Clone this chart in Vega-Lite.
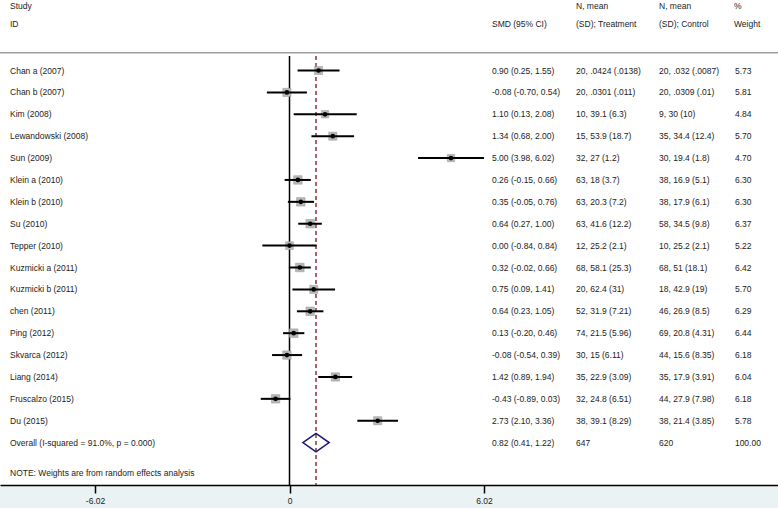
{
  "$schema": "https://vega.github.io/schema/vega-lite/v6.json",
  "width": 778,
  "height": 485,
  "autosize": {"type": "none"},
  "padding": {"left": 0, "right": 0, "top": 0, "bottom": 23},
  "background": "#eaf2f3",
  "config": {
    "view": {"stroke": null, "fill": "white"},
    "font": "Liberation Sans",
    "locale": {"number": {"decimal": ".", "thousands": ",", "grouping": [3], "currency": ["$", ""], "minus": "-"}},
    "text": {"font": "Liberation Sans", "fontSize": 8.5, "color": "#222"}
  },
  "datasets": {
    "studies": [
      {"row": 1, "kind": "study", "study": "Chan a (2007)", "smd": 0.90, "lo": 0.25, "hi": 1.55, "ci": "0.90 (0.25, 1.55)", "trt": "20, .0424 (.0138)", "ctl": "20, .032 (.0087)", "weight": 5.73},
      {"row": 2, "kind": "study", "study": "Chan b (2007)", "smd": -0.08, "lo": -0.70, "hi": 0.54, "ci": "-0.08 (-0.70, 0.54)", "trt": "20, .0301 (.011)", "ctl": "20, .0309 (.01)", "weight": 5.81},
      {"row": 3, "kind": "study", "study": "Kim (2008)", "smd": 1.10, "lo": 0.13, "hi": 2.08, "ci": "1.10 (0.13, 2.08)", "trt": "10, 39.1 (6.3)", "ctl": "9, 30 (10)", "weight": 4.84},
      {"row": 4, "kind": "study", "study": "Lewandowski (2008)", "smd": 1.34, "lo": 0.68, "hi": 2.00, "ci": "1.34 (0.68, 2.00)", "trt": "15, 53.9 (18.7)", "ctl": "35, 34.4 (12.4)", "weight": 5.70},
      {"row": 5, "kind": "study", "study": "Sun (2009)", "smd": 5.00, "lo": 3.98, "hi": 6.02, "ci": "5.00 (3.98, 6.02)", "trt": "32, 27 (1.2)", "ctl": "30, 19.4 (1.8)", "weight": 4.70},
      {"row": 6, "kind": "study", "study": "Klein a (2010)", "smd": 0.26, "lo": -0.15, "hi": 0.66, "ci": "0.26 (-0.15, 0.66)", "trt": "63, 18 (3.7)", "ctl": "38, 16.9 (5.1)", "weight": 6.30},
      {"row": 7, "kind": "study", "study": "Klein b (2010)", "smd": 0.35, "lo": -0.05, "hi": 0.76, "ci": "0.35 (-0.05, 0.76)", "trt": "63, 20.3 (7.2)", "ctl": "38, 17.9 (6.1)", "weight": 6.30},
      {"row": 8, "kind": "study", "study": "Su (2010)", "smd": 0.64, "lo": 0.27, "hi": 1.00, "ci": "0.64 (0.27, 1.00)", "trt": "63, 41.6 (12.2)", "ctl": "58, 34.5 (9.8)", "weight": 6.37},
      {"row": 9, "kind": "study", "study": "Tepper (2010)", "smd": 0.00, "lo": -0.84, "hi": 0.84, "ci": "0.00 (-0.84, 0.84)", "trt": "12, 25.2 (2.1)", "ctl": "10, 25.2 (2.1)", "weight": 5.22},
      {"row": 10, "kind": "study", "study": "Kuzmicki a (2011)", "smd": 0.32, "lo": -0.02, "hi": 0.66, "ci": "0.32 (-0.02, 0.66)", "trt": "68, 58.1 (25.3)", "ctl": "68, 51 (18.1)", "weight": 6.42},
      {"row": 11, "kind": "study", "study": "Kuzmicki b (2011)", "smd": 0.75, "lo": 0.09, "hi": 1.41, "ci": "0.75 (0.09, 1.41)", "trt": "20, 62.4 (31)", "ctl": "18, 42.9 (19)", "weight": 5.70},
      {"row": 12, "kind": "study", "study": "chen (2011)", "smd": 0.64, "lo": 0.23, "hi": 1.05, "ci": "0.64 (0.23, 1.05)", "trt": "52, 31.9 (7.21)", "ctl": "46, 26.9 (8.5)", "weight": 6.29},
      {"row": 13, "kind": "study", "study": "Ping (2012)", "smd": 0.13, "lo": -0.20, "hi": 0.46, "ci": "0.13 (-0.20, 0.46)", "trt": "74, 21.5 (5.96)", "ctl": "69, 20.8 (4.31)", "weight": 6.44},
      {"row": 14, "kind": "study", "study": "Skvarca (2012)", "smd": -0.08, "lo": -0.54, "hi": 0.39, "ci": "-0.08 (-0.54, 0.39)", "trt": "30, 15 (6.11)", "ctl": "44, 15.6 (8.35)", "weight": 6.18},
      {"row": 15, "kind": "study", "study": "Liang (2014)", "smd": 1.42, "lo": 0.89, "hi": 1.94, "ci": "1.42 (0.89, 1.94)", "trt": "35, 22.9 (3.09)", "ctl": "35, 17.9 (3.91)", "weight": 6.04},
      {"row": 16, "kind": "study", "study": "Fruscalzo (2015)", "smd": -0.43, "lo": -0.89, "hi": 0.03, "ci": "-0.43 (-0.89, 0.03)", "trt": "32, 24.8 (6.51)", "ctl": "44, 27.9 (7.98)", "weight": 6.18},
      {"row": 17, "kind": "study", "study": "Du (2015)", "smd": 2.73, "lo": 2.10, "hi": 3.36, "ci": "2.73 (2.10, 3.36)", "trt": "38, 39.1 (8.29)", "ctl": "38, 21.4 (3.85)", "weight": 5.78},
      {"row": 18, "kind": "overall", "study": "Overall  (I-squared = 91.0%, p = 0.000)", "smd": 0.82, "lo": 0.41, "hi": 1.22, "ci": "0.82 (0.41, 1.22)", "trt": "647", "ctl": "620", "weight": 100.00}
    ],
    "header": [
      {"study": "Study\nID", "ci": "\nSMD (95% CI)", "trt": "N, mean\n(SD); Treatment", "ctl": "N, mean\n(SD); Control", "wt": "%\nWeight", "note": "NOTE: Weights are from random effects analysis"}
    ]
  },
  "encoding": {
    "x": {"type": "quantitative", "scale": {"domain": [-8.963, 15.124], "nice": false, "zero": false},
      "axis": {"values": [-6.02, 0, 6.02], "title": null, "grid": false, "domainColor": "#000", "domainWidth": 1.5, "tickColor": "#000", "tickWidth": 1.5, "tickSize": 8, "labelFontSize": 8.5, "labelColor": "#222", "labelPadding": 3, "labelFont": "Liberation Sans", "labelExpr": "datum.value == 0 ? '0' : format(datum.value, '.2f')"}},
    "y": {"type": "quantitative", "scale": {"domain": [-2.221, 19.936], "reverse": true, "nice": false, "zero": false}, "axis": null}
  },
  "layer": [
    {
      "data": {"name": "header"},
      "mark": {"type": "rule", "color": "#a0a0a0", "strokeWidth": 1.5},
      "encoding": {"y": {"datum": 0.19}}
    },
    {
      "data": {"name": "header"},
      "mark": {"type": "rule", "color": "#000", "strokeWidth": 1.5},
      "encoding": {"x": {"datum": 0}, "y": {"datum": 0.34}, "y2": {"datum": 19.936}}
    },
    {
      "data": {"name": "studies"},
      "transform": [{"filter": "datum.kind == 'overall'"}],
      "mark": {"type": "rule", "color": "#8e3040", "strokeWidth": 1.5, "strokeDash": [4, 3]},
      "encoding": {"x": {"field": "smd"}, "y": {"datum": 0.34}, "y2": {"datum": 19.936}}
    },
    {
      "data": {"name": "studies"},
      "transform": [{"filter": "datum.kind == 'study'"}],
      "mark": {"type": "point", "shape": "square", "filled": true, "color": "#b8b8b8", "stroke": "#999", "strokeWidth": 0.5, "opacity": 1},
      "encoding": {"x": {"field": "smd"}, "y": {"field": "row"}, "size": {"field": "weight", "type": "quantitative", "scale": {"domain": [0, 6.44], "range": [0, 74]}, "legend": null}}
    },
    {
      "data": {"name": "studies"},
      "transform": [{"filter": "datum.kind == 'study'"}],
      "mark": {"type": "rule", "color": "#000", "strokeWidth": 2},
      "encoding": {"x": {"field": "lo"}, "x2": {"field": "hi"}, "y": {"field": "row"}}
    },
    {
      "data": {"name": "studies"},
      "transform": [{"filter": "datum.kind == 'study'"}],
      "mark": {"type": "point", "shape": "circle", "filled": true, "color": "#000", "size": 22, "opacity": 1},
      "encoding": {"x": {"field": "smd"}, "y": {"field": "row"}}
    },
    {
      "data": {"name": "studies"},
      "transform": [{"filter": "datum.kind == 'overall'"}],
      "mark": {"type": "point", "shape": "M -1 0 L 0 -0.7 L 1 0 L 0 0.7 Z", "filled": false, "stroke": "#1a1a70", "strokeWidth": 1.6, "size": 686, "opacity": 1},
      "encoding": {"x": {"field": "smd"}, "y": {"field": "row"}}
    },
    {
      "data": {"name": "studies"},
      "mark": {"type": "text", "align": "left", "baseline": "middle"},
      "encoding": {"x": {"datum": -8.653}, "y": {"field": "row"}, "text": {"field": "study"}}
    },
    {
      "data": {"name": "studies"},
      "mark": {"type": "text", "align": "left", "baseline": "middle"},
      "encoding": {"x": {"datum": 6.269}, "y": {"field": "row"}, "text": {"field": "ci"}}
    },
    {
      "data": {"name": "studies"},
      "mark": {"type": "text", "align": "left", "baseline": "middle"},
      "encoding": {"x": {"datum": 8.87}, "y": {"field": "row"}, "text": {"field": "trt"}}
    },
    {
      "data": {"name": "studies"},
      "mark": {"type": "text", "align": "left", "baseline": "middle"},
      "encoding": {"x": {"datum": 11.44}, "y": {"field": "row"}, "text": {"field": "ctl"}}
    },
    {
      "data": {"name": "studies"},
      "mark": {"type": "text", "align": "left", "baseline": "middle"},
      "encoding": {"x": {"datum": 13.79}, "y": {"field": "row"}, "text": {"field": "weight", "type": "quantitative", "format": ".2f"}}
    },
    {
      "data": {"name": "header"},
      "mark": {"type": "text", "align": "left", "baseline": "top", "lineBreak": "\n", "lineHeight": 18.5},
      "encoding": {"x": {"datum": -8.653}, "y": {"datum": -2.15}, "text": {"field": "study"}}
    },
    {
      "data": {"name": "header"},
      "mark": {"type": "text", "align": "left", "baseline": "top", "lineBreak": "\n", "lineHeight": 18.5},
      "encoding": {"x": {"datum": 6.269}, "y": {"datum": -2.15}, "text": {"field": "ci"}}
    },
    {
      "data": {"name": "header"},
      "mark": {"type": "text", "align": "left", "baseline": "top", "lineBreak": "\n", "lineHeight": 18.5},
      "encoding": {"x": {"datum": 8.87}, "y": {"datum": -2.15}, "text": {"field": "trt"}}
    },
    {
      "data": {"name": "header"},
      "mark": {"type": "text", "align": "left", "baseline": "top", "lineBreak": "\n", "lineHeight": 18.5},
      "encoding": {"x": {"datum": 11.44}, "y": {"datum": -2.15}, "text": {"field": "ctl"}}
    },
    {
      "data": {"name": "header"},
      "mark": {"type": "text", "align": "left", "baseline": "top", "lineBreak": "\n", "lineHeight": 18.5},
      "encoding": {"x": {"datum": 13.76}, "y": {"datum": -2.15}, "text": {"field": "wt"}}
    },
    {
      "data": {"name": "header"},
      "mark": {"type": "text", "align": "left", "baseline": "middle"},
      "encoding": {"x": {"datum": -8.653}, "y": {"datum": 19.387}, "text": {"field": "note"}}
    }
  ]
}
